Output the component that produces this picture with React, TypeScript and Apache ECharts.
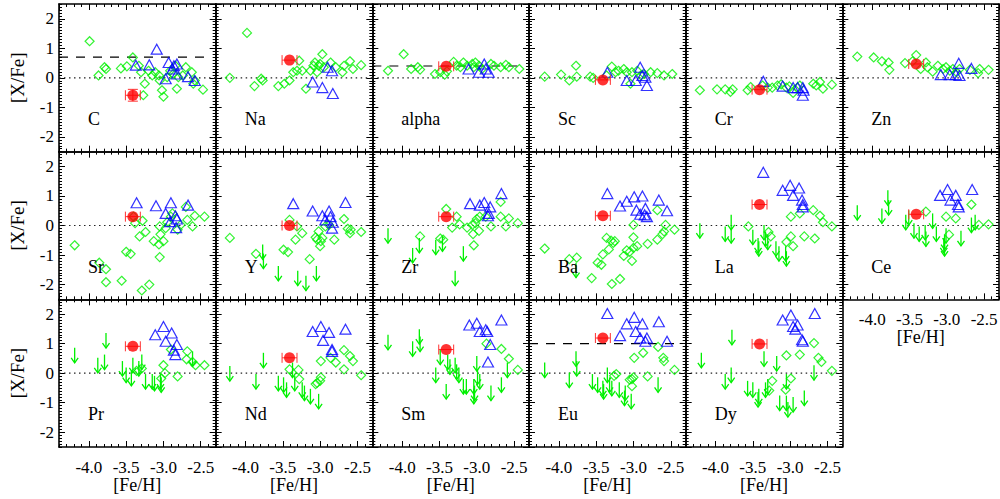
import React, { useEffect, useRef } from 'react';
import * as echarts from 'echarts';

type P = [number, number];

const elements = ['C', 'Na', 'alpha', 'Sc', 'Cr', 'Zn', 'Sr', 'Y', 'Zr', 'Ba', 'La', 'Ce', 'Pr', 'Nd', 'Sm', 'Eu', 'Dy'];

// red star (this work)
const redFeH = -3.41;
const redFeHErr = 0.1;
const redX = [-0.59, 0.6, 0.39, -0.07, -0.4, 0.47, 0.3, 0.0, 0.3, 0.33, 0.71, 0.38, 0.91, 0.52, 0.8, 1.19, 0.99];
const redXErr = [0.2, 0, 0, 0, 0, 0, 0, 0, 0, 0, 0, 0, 0, 0, 0, 0, 0];
const dashLevel: (number | null)[] = [0.7, null, 0.4, null, null, null, null, null, null, null, null, null, null, null, null, 1.0, null];
const dashEnd = -2.45;

const xTicks = ['-4.0', '-3.5', '-3.0', '-2.5'];
const yTicks = ['-2', '-1', '0', '1', '2'];

const C_dia: P[] = [[-3.99,1.24],[-3.87,0.08],[-3.79,0.36],[-3.77,0.30],[-3.57,0.32],[-3.49,0.39],[-3.41,0.69],[-3.33,0.41],[-3.30,0.19],[-3.27,-0.59],[-3.25,-0.20],[-3.20,0.24],[-3.15,0.08],[-3.11,0.19],[-3.06,0.08],[-3.05,-0.09],[-3.02,-0.42],[-3.00,-0.64],[-2.95,0.02],[-2.91,0.24],[-2.87,0.13],[-2.84,0.41],[-2.82,-0.37],[-2.80,0.02],[-2.74,0.08],[-2.70,0.36],[-2.62,0.19],[-2.60,-0.20],[-2.58,-0.09],[-2.47,-0.40]];
const C_tri: P[] = [[-3.37,0.43],[-3.19,0.44],[-3.09,0.97],[-2.93,0.52],[-2.86,0.41],[-2.82,0.47],[-2.88,0.30],[-2.97,-0.03],[-2.82,0.13],[-2.67,0.04],[-2.58,-0.09]];
const C_lim: P[] = [];

const Na_dia: P[] = [[-4.21,0.0],[-3.98,1.52],[-3.88,-0.28],[-3.79,-0.03],[-3.77,-0.09],[-3.56,-0.28],[-3.48,-0.2],[-3.41,-0.09],[-3.36,0.19],[-3.31,0.24],[-3.28,0.58],[-3.24,0.24],[-3.19,-0.37],[-3.13,0.24],[-3.09,0.41],[-3.07,0.52],[-3.04,0.19],[-3.02,0.41],[-3.0,0.47],[-2.97,0.8],[-2.95,0.36],[-2.86,0.52],[-2.79,0.36],[-2.7,0.19],[-2.68,0.41],[-2.6,0.56],[-2.56,0.3],[-2.45,0.43]];
const Na_tri: P[] = [[-3.1,-0.14],[-2.97,-0.33],[-2.9,0.36],[-2.84,0.24],[-2.83,-0.53]];
const Na_lim: P[] = [];

const alpha_dia: P[] = [[-4.19,0.24],[-3.98,0.8],[-3.88,0.3],[-3.79,0.36],[-3.76,0.28],[-3.56,0.13],[-3.49,0.19],[-3.43,0.11],[-3.4,0.22],[-3.31,0.54],[-3.27,0.41],[-3.22,0.36],[-3.18,0.52],[-3.13,0.41],[-3.06,0.47],[-3.04,0.36],[-3.02,0.52],[-2.97,0.41],[-2.93,0.3],[-2.81,0.47],[-2.77,0.41],[-2.68,0.36],[-2.61,0.44],[-2.57,0.36],[-2.43,0.3]];
const alpha_tri: P[] = [[-3.11,0.3],[-2.97,0.19],[-2.9,0.47],[-2.88,0.3],[-2.84,0.19]];
const alpha_lim: P[] = [];

const Sc_dia: P[] = [[-4.19,0.04],[-3.97,0.11],[-3.86,-0.09],[-3.77,0.41],[-3.76,0.04],[-3.58,0.04],[-3.54,0.0],[-3.36,0.08],[-3.29,0.38],[-3.24,0.19],[-3.2,0.24],[-3.13,0.3],[-3.09,0.19],[-3.04,-0.2],[-3.02,0.19],[-2.95,0.24],[-2.9,0.08],[-2.86,0.13],[-2.77,0.19],[-2.68,0.16],[-2.59,0.08],[-2.48,0.13]];
const Sc_tri: P[] = [[-3.35,0.19],[-3.09,-0.09],[-2.97,-0.09],[-2.91,0.36],[-2.88,0.08],[-2.84,0.02],[-2.82,-0.26]];
const Sc_lim: P[] = [];

const Cr_dia: P[] = [[-4.21,-0.42],[-3.98,-0.39],[-3.87,-0.39],[-3.8,-0.48],[-3.77,-0.39],[-3.57,-0.42],[-3.53,-0.31],[-3.37,-0.26],[-3.3,-0.33],[-3.24,-0.33],[-3.17,-0.26],[-3.12,-0.22],[-3.05,-0.33],[-3.01,-0.29],[-2.96,-0.51],[-2.9,-0.33],[-2.87,-0.26],[-2.69,-0.2],[-2.65,-0.26],[-2.6,-0.14],[-2.56,-0.37],[-2.44,-0.23]];
const Cr_tri: P[] = [[-3.36,-0.12],[-3.1,-0.28],[-2.96,-0.33],[-2.9,-0.33],[-2.83,-0.33],[-2.83,-0.59],[-2.82,-0.42]];
const Cr_lim: P[] = [];

const Zn_dia: P[] = [[-4.2,0.72],[-3.98,0.69],[-3.87,0.56],[-3.78,0.52],[-3.77,0.27],[-3.56,0.5],[-3.46,0.56],[-3.41,0.77],[-3.35,0.3],[-3.28,0.52],[-3.26,0.36],[-3.19,0.21],[-3.12,0.41],[-3.05,0.3],[-3.01,0.36],[-2.96,0.24],[-2.92,0.3],[-2.87,0.19],[-2.83,0.3],[-2.69,0.27],[-2.58,0.16],[-2.56,0.3],[-2.44,0.27]];
const Zn_tri: P[] = [[-3.08,0.11],[-2.96,0.11],[-2.88,0.11],[-2.84,0.49],[-2.83,0.08],[-2.67,0.32]];
const Zn_lim: P[] = [];

const Sr_dia: P[] = [[-4.19,-0.67],[-3.86,-1.26],[-3.77,-1.48],[-3.77,-1.92],[-3.56,-1.87],[-3.5,-0.89],[-3.44,-0.96],[-3.4,0.3],[-3.38,0.08],[-3.32,-0.37],[-3.28,0.16],[-3.29,-2.2],[-3.24,-0.22],[-3.19,-2.0],[-3.13,-0.53],[-3.06,-0.64],[-3.05,-1.07],[-3.05,-0.03],[-3.04,-0.3],[-3.0,-0.53],[-2.97,-0.09],[-2.95,0.11],[-2.9,0.3],[-2.88,0.41],[-2.81,-0.14],[-2.77,0.02],[-2.7,0.63],[-2.68,0.19],[-2.61,-0.03],[-2.58,0.33],[-2.45,0.3]];
const Sr_tri: P[] = [[-3.36,0.77],[-3.1,0.67],[-2.9,0.77],[-2.97,0.41],[-2.91,0.13],[-2.84,0.33],[-2.82,0.22],[-2.83,-0.07],[-2.67,0.69]];
const Sr_lim: P[] = [];

const Y_dia: P[] = [[-4.21,-0.42],[-3.86,-0.96],[-3.49,-0.82],[-3.43,-0.9],[-3.41,0.19],[-3.33,-0.48],[-3.31,-0.03],[-3.24,-0.26],[-3.14,-1.14],[-3.06,-0.4],[-3.04,-0.48],[-3.02,-0.2],[-3.0,-0.7],[-2.99,-0.53],[-2.97,-0.42],[-2.93,-0.03],[-2.88,0.02],[-2.81,-0.48],[-2.68,0.22],[-2.63,-0.11],[-2.6,-0.26],[-2.59,-0.14],[-2.45,-0.22]];
const Y_tri: P[] = [[-3.36,0.74],[-3.1,0.49],[-2.97,0.33],[-2.88,0.49],[-2.93,0.19],[-2.86,0.3],[-2.83,0.11],[-2.84,-0.09],[-2.66,0.78]];
const Y_lim: P[] = [[-3.77,-0.64],[-3.76,-0.95],[-3.56,-1.37],[-3.3,-1.53],[-3.19,-1.7],[-3.05,-1.37]];

const Zr_dia: P[] = [[-3.76,-0.37],[-3.49,-0.44],[-3.45,-0.48],[-3.41,0.56],[-3.33,-0.07],[-3.27,0.3],[-3.23,0.04],[-3.13,-0.07],[-3.06,0.02],[-3.05,-0.29],[-3.04,-0.67],[-3.02,0.08],[-3.0,0.22],[-2.97,-0.18],[-2.96,0.3],[-2.88,0.3],[-2.81,-0.03],[-2.68,0.8],[-2.68,0.3],[-2.61,-0.03],[-2.57,0.24],[-2.45,0.08]];
const Zr_tri: P[] = [[-3.09,0.74],[-2.96,0.69],[-2.9,0.78],[-2.82,0.63],[-2.85,0.33],[-2.84,0.41],[-2.67,1.08]];
const Zr_lim: P[] = [[-4.19,-0.09],[-3.77,-0.42],[-3.86,-0.76],[-3.55,-0.48],[-3.46,-0.37],[-3.18,-0.7],[-3.29,-1.53]];

const Ba_dia: P[] = [[-4.19,-0.78],[-3.86,-1.14],[-3.76,-1.09],[-3.56,-1.78],[-3.48,-1.26],[-3.43,-1.33],[-3.41,-0.98],[-3.36,-0.42],[-3.33,-0.81],[-3.3,-0.51],[-3.29,-1.98],[-3.27,-0.59],[-3.25,-0.53],[-3.18,-1.81],[-3.13,-1.03],[-3.09,-0.84],[-3.05,-0.89],[-3.02,-1.2],[-3.0,-0.76],[-3.0,-0.4],[-3.0,0.02],[-2.95,-0.7],[-2.81,-0.62],[-2.68,0.52],[-2.68,-0.48],[-2.61,-0.29],[-2.59,-0.2],[-2.57,0.02],[-2.45,-0.14]];
const Ba_tri: P[] = [[-3.35,1.08],[-3.18,0.66],[-3.09,0.82],[-2.99,0.97],[-2.88,1.0],[-2.96,0.52],[-2.91,0.38],[-2.84,0.58],[-2.85,0.36],[-2.82,0.3],[-2.66,0.86],[-2.55,0.5]];
const Ba_lim: P[] = [[-3.77,-1.26]];

const La_dia: P[] = [[-3.56,-0.03],[-3.29,-0.22],[-3.26,-0.37],[-3.05,-0.56],[-2.99,-0.37],[-2.96,-0.7],[-2.99,0.3],[-2.87,0.41],[-2.81,-0.37],[-2.69,0.52],[-2.67,-0.44],[-2.6,0.33],[-2.56,0.11],[-2.44,-0.03]];
const La_tri: P[] = [[-3.36,1.8],[-3.1,1.19],[-3.0,1.36],[-2.96,1.02],[-2.88,1.27],[-2.84,0.86],[-2.83,0.71],[-2.83,0.63]];
const La_lim: P[] = [[-4.21,0.08],[-3.87,-0.03],[-3.79,0.36],[-3.79,-0.09],[-3.5,-0.14],[-3.43,-0.42],[-3.42,-0.53],[-3.35,0.02],[-3.33,-0.2],[-3.3,-0.31],[-3.19,-0.53],[-3.15,-0.7],[-3.05,-0.87],[-3.06,-0.7]];

const Ce_dia: P[] = [[-3.28,0.47],[-3.01,0.3],[-2.88,0.24],[-2.97,-0.31],[-2.67,0.71],[-2.57,0.02],[-2.44,0.04]];
const Ce_tri: P[] = [[-3.09,1.02],[-2.99,1.22],[-2.95,0.86],[-2.88,1.02],[-2.85,0.71],[-2.84,0.63],[-2.66,1.22]];
const Ce_lim: P[] = [[-4.2,0.69],[-3.87,0.58],[-3.79,1.19],[-3.78,0.86],[-3.55,0.36],[-3.51,0.52],[-3.44,0.08],[-3.37,-0.03],[-3.29,0.02],[-3.28,-0.2],[-3.19,0.41],[-3.14,-0.03],[-3.03,-0.31],[-3.04,-0.42],[-3.03,-0.53],[-3.01,-0.09],[-2.81,-0.18],[-2.67,0.27],[-2.62,0.36]];

const Pr_dia: P[] = [[-3.36,0.08],[-3.29,0.16],[-3.0,0.27],[-2.98,0.0],[-2.9,0.8],[-2.81,-0.11],[-2.68,0.74],[-2.69,0.47],[-2.61,0.38],[-2.57,0.27],[-2.45,0.27],[-3.03,-0.18]];
const Pr_tri: P[] = [[-3.11,1.3],[-3.0,1.58],[-2.89,1.36],[-2.97,1.08],[-2.82,0.97],[-2.86,0.78],[-2.84,0.63]];
const Pr_lim: P[] = [[-4.19,0.86],[-3.88,0.52],[-3.79,0.63],[-3.77,1.36],[-3.55,0.41],[-3.5,0.19],[-3.43,0.08],[-3.41,0.52],[-3.33,0.41],[-3.29,0.63],[-3.24,-0.03],[-3.15,-0.03],[-3.12,-0.09],[-3.04,-0.03],[-3.03,-0.14],[-2.61,0.74]];

const Nd_dia: P[] = [[-3.41,0.13],[-3.29,0.11],[-3.28,-0.2],[-3.06,-0.37],[-3.04,-0.33],[-3.0,-0.26],[-2.99,-0.14],[-2.99,0.41],[-2.86,0.52],[-2.79,0.36],[-2.68,0.78],[-2.68,0.13],[-2.6,0.58],[-2.56,0.41],[-2.45,-0.07]];
const Nd_tri: P[] = [[-3.1,1.41],[-2.99,1.58],[-2.88,1.38],[-2.96,1.11],[-2.84,0.8],[-2.84,0.74],[-2.66,1.49]];
const Nd_lim: P[] = [[-4.21,0.24],[-3.86,-0.03],[-3.76,0.69],[-3.56,-0.09],[-3.49,-0.14],[-3.45,-0.31],[-3.37,0.36],[-3.34,-0.09],[-3.24,-0.31],[-3.21,-0.42],[-3.13,-0.53],[-3.02,-0.7]];

const Sm_dia: P[] = [[-2.87,1.0],[-2.67,0.82],[-2.57,0.49],[-2.45,0.11]];
const Sm_tri: P[] = [[-3.1,1.63],[-3.0,1.69],[-2.96,1.41],[-2.88,1.47],[-2.86,1.41],[-2.67,1.8],[-2.82,0.97],[-2.85,0.38]];
const Sm_lim: P[] = [[-4.19,1.3],[-3.86,1.08],[-3.77,1.49],[-3.76,1.24],[-3.49,0.8],[-3.55,0.19],[-3.41,-0.37],[-3.39,0.63],[-3.36,0.47],[-3.29,0.52],[-3.27,0.3],[-3.24,0.19],[-3.18,-0.2],[-3.14,-0.2],[-3.04,-0.2],[-3.03,-0.42],[-3.04,-0.53],[-3.0,0.58],[-2.99,0.13],[-2.96,-0.03],[-2.81,-0.42],[-2.67,-0.14],[-2.59,0.36]];

const Eu_dia: P[] = [[-3.26,-0.09],[-3.23,-0.03],[-3.05,-0.22],[-3.02,-0.2],[-3.0,-0.14],[-3.02,-0.44],[-2.99,0.52],[-2.87,0.69],[-2.81,-0.11],[-2.67,0.89],[-2.6,0.52],[-2.59,0.41],[-2.45,0.11]];
const Eu_tri: P[] = [[-3.35,2.02],[-3.18,1.27],[-3.09,1.67],[-2.99,1.89],[-2.88,1.67],[-2.97,1.41],[-2.91,1.19],[-2.82,1.19],[-2.84,1.08],[-2.66,1.74],[-2.55,1.08]];
const Eu_lim: P[] = [[-4.19,0.36],[-3.86,0.02],[-3.77,0.74],[-3.76,0.41],[-3.55,-0.03],[-3.48,-0.14],[-3.41,-0.26],[-3.4,-0.37],[-3.35,0.19],[-3.32,-0.14],[-3.29,-0.26],[-3.19,-0.31],[-3.12,-0.59],[-3.03,-0.7],[-3.11,-0.42],[-2.67,-0.14]];

const Dy_dia: P[] = [[-3.24,-0.26],[-3.28,-0.59],[-3.05,0.6],[-2.99,-0.18],[-3.06,-0.56],[-2.87,0.63],[-2.68,1.02],[-2.62,0.52],[-2.58,0.38],[-2.44,0.08]];
const Dy_tri: P[] = [[-3.1,1.8],[-2.99,1.97],[-2.96,1.58],[-2.9,1.63],[-2.93,1.49],[-2.84,1.13],[-2.83,1.08],[-2.67,2.02]];
const Dy_lim: P[] = [[-4.19,0.69],[-3.87,-0.03],[-3.79,0.19],[-3.78,1.47],[-3.57,-0.26],[-3.5,-0.31],[-3.43,-0.64],[-3.42,-0.53],[-3.35,0.74],[-3.33,-0.31],[-3.3,-0.2],[-3.18,0.58],[-3.14,-0.76],[-3.05,-0.76],[-3.03,-0.98],[-2.96,-0.81],[-3.05,-0.03],[-2.81,-0.59],[-2.68,0.27]];

const diamonds: P[][] = [C_dia, Na_dia, alpha_dia, Sc_dia, Cr_dia, Zn_dia, Sr_dia, Y_dia, Zr_dia, Ba_dia, La_dia, Ce_dia, Pr_dia, Nd_dia, Sm_dia, Eu_dia, Dy_dia];
const triangles: P[][] = [C_tri, Na_tri, alpha_tri, Sc_tri, Cr_tri, Zn_tri, Sr_tri, Y_tri, Zr_tri, Ba_tri, La_tri, Ce_tri, Pr_tri, Nd_tri, Sm_tri, Eu_tri, Dy_tri];
const limits: P[][] = [C_lim, Na_lim, alpha_lim, Sc_lim, Cr_lim, Zn_lim, Sr_lim, Y_lim, Zr_lim, Ba_lim, La_lim, Ce_lim, Pr_lim, Nd_lim, Sm_lim, Eu_lim, Dy_lim];

const XMIN = -4.4, XMAX = -2.3, YMIN = -2.5, YMAX = 2.5;
const LEFT0 = 59, COLW = 156.67, TOP0 = 4, ROWH = 147.67;
const FONT = "'Liberation Serif', 'Times New Roman', serif";
const GREEN = '#00f000';
const BLUE = '#0000ff';
const RED = '#ff0000';

function buildOption() {
  const grid: any[] = [];
  const xAxis: any[] = [];
  const yAxis: any[] = [];
  const series: any[] = [];
  const graphic: any[] = [];

  elements.forEach((el, i) => {
    const row = Math.floor(i / 6);
    const col = i % 6;
    const left = LEFT0 + col * COLW;
    const top = TOP0 + row * ROWH;
    grid.push({ left, top, width: COLW, height: ROWH, show: false, outerBoundsMode: 'none', containLabel: false });
    const showX = row === 2 || i === 11;
    const showY = col === 0;
    const line = { show: true, onZero: false, lineStyle: { color: '#000', width: 1.6 } };
    const label = { fontFamily: FONT, fontSize: 17, color: '#000' };
    ['bottom', 'top'].forEach((pos) => {
      xAxis.push({
        type: 'value', gridIndex: i, position: pos, min: XMIN, max: XMAX, splitNumber: 4,
        axisLine: line,
        axisTick: { show: true, inside: true, length: 6, lineStyle: { color: '#000', width: 1 } },
        axisLabel: {
          show: pos === 'bottom' && showX, showMinLabel: false, showMaxLabel: false, margin: 12,
          formatter: (v: number) => { const s = v.toFixed(1); return xTicks.indexOf(s) >= 0 ? s : ''; },
          ...label,
        },
        splitLine: { show: false },
      });
      xAxis.push({
        type: 'value', gridIndex: i, position: pos, min: XMIN, max: XMAX, interval: 0.1,
        axisLine: { show: false, onZero: false },
        axisTick: { show: true, inside: true, length: 3, lineStyle: { color: '#000', width: 1 } },
        axisLabel: { show: false }, splitLine: { show: false },
      });
    });
    ['left', 'right'].forEach((pos) => {
      yAxis.push({
        type: 'value', gridIndex: i, position: pos, min: YMIN, max: YMAX, splitNumber: 5,
        axisLine: line,
        axisTick: { show: true, inside: true, length: 6, lineStyle: { color: '#000', width: 1 } },
        axisLabel: {
          show: pos === 'left' && showY, showMinLabel: false, showMaxLabel: false, margin: 5,
          formatter: (v: number) => { const s = String(Math.round(v)); return Math.abs(v - Math.round(v)) < 1e-6 && yTicks.indexOf(s) >= 0 ? s : ''; },
          ...label,
        },
        splitLine: { show: false },
      });
      yAxis.push({
        type: 'value', gridIndex: i, position: pos, min: YMIN, max: YMAX, interval: 0.1,
        axisLine: { show: false, onZero: false },
        axisTick: { show: true, inside: true, length: 3, lineStyle: { color: '#000', width: 1 } },
        axisLabel: { show: false }, splitLine: { show: false },
      });
    });
    const xi = i * 4, yi = i * 4;
    series.push({
      type: 'line', xAxisIndex: xi, yAxisIndex: yi, data: [[XMIN, 0], [XMAX, 0]], symbol: 'none', silent: true,
      lineStyle: { color: '#222', width: 1.2, type: [1.5, 3.5] }, z: 1,
    });
    const d = dashLevel[i];
    if (d !== null) {
      series.push({
        type: 'line', xAxisIndex: xi, yAxisIndex: yi, data: [[XMIN, d], [dashEnd, d]], symbol: 'none', silent: true,
        lineStyle: { color: '#000', width: 1.2, type: [9, 8] }, z: 1,
      });
    }
    series.push({
      type: 'scatter', xAxisIndex: xi, yAxisIndex: yi, data: diamonds[i], symbol: 'diamond', symbolSize: 9, silent: true,
      itemStyle: { color: 'none', borderColor: GREEN, borderWidth: 1.2 }, z: 2,
    });
    if (limits[i].length) {
      series.push({
        type: 'custom', xAxisIndex: xi, yAxisIndex: yi, data: limits[i], silent: true, z: 2,
        renderItem: (params: any, api: any) => {
          const p = api.coord([api.value(0), api.value(1)]);
          const L = 15, hw = 3.5, hh = 5;
          return {
            type: 'group', children: [
              { type: 'line', shape: { x1: p[0], y1: p[1], x2: p[0], y2: p[1] + L }, style: { stroke: GREEN, lineWidth: 1.3 } },
              { type: 'polyline', shape: { points: [[p[0] - hw, p[1] + L - hh], [p[0], p[1] + L], [p[0] + hw, p[1] + L - hh]] }, style: { stroke: GREEN, fill: 'none', lineWidth: 1.3 } },
            ],
          };
        },
      });
    }
    series.push({
      type: 'scatter', xAxisIndex: xi, yAxisIndex: yi, data: triangles[i], symbol: 'triangle', symbolSize: [11, 10], silent: true,
      itemStyle: { color: 'none', borderColor: BLUE, borderWidth: 1.2 }, z: 3,
    });
    series.push({
      type: 'custom', xAxisIndex: xi, yAxisIndex: yi, data: [[redFeH, redX[i], redFeHErr, redXErr[i]]], silent: true, z: 4,
      renderItem: (params: any, api: any) => {
        const x = api.value(0), y = api.value(1), ex = api.value(2), ey = api.value(3);
        const a = api.coord([x - ex, y]);
        const b = api.coord([x + ex, y]);
        const cap = 5;
        const st = { stroke: '#ff3030', lineWidth: 1 };
        const children: any[] = [
          { type: 'line', shape: { x1: a[0], y1: a[1], x2: b[0], y2: b[1] }, style: st },
          { type: 'line', shape: { x1: a[0], y1: a[1] - cap, x2: a[0], y2: a[1] + cap }, style: st },
          { type: 'line', shape: { x1: b[0], y1: b[1] - cap, x2: b[0], y2: b[1] + cap }, style: st },
        ];
        if (ey > 0) {
          const c = api.coord([x, y - ey]);
          const e = api.coord([x, y + ey]);
          children.push({ type: 'line', shape: { x1: c[0], y1: c[1], x2: e[0], y2: e[1] }, style: st });
          children.push({ type: 'line', shape: { x1: c[0] - cap, y1: c[1], x2: c[0] + cap, y2: c[1] }, style: st });
          children.push({ type: 'line', shape: { x1: e[0] - cap, y1: e[1], x2: e[0] + cap, y2: e[1] }, style: st });
        }
        return { type: 'group', children };
      },
    });
    series.push({
      type: 'scatter', xAxisIndex: xi, yAxisIndex: yi, data: [[redFeH, redX[i]]], symbol: 'circle', symbolSize: 11, silent: true,
      itemStyle: { color: RED }, z: 5,
    });

    graphic.push({
      type: 'text', x: left + 29, y: top + 115, silent: true, z: 10,
      style: { text: el, fill: '#000', fontFamily: FONT, fontSize: 18, textAlign: 'left', textVerticalAlign: 'middle', verticalAlign: 'middle' },
    });
    if (showY) {
      graphic.push({
        type: 'text', x: 17, y: top + ROWH / 2, rotation: Math.PI / 2, silent: true,
        style: { text: '[X/Fe]', fill: '#000', fontFamily: FONT, fontSize: 19, textAlign: 'center', textVerticalAlign: 'middle', verticalAlign: 'middle', align: 'center' },
      });
    }
    if (showX) {
      graphic.push({
        type: 'text', x: left + COLW / 2, y: top + ROWH + 38, silent: true,
        style: { text: '[Fe/H]', fill: '#000', fontFamily: FONT, fontSize: 18, textAlign: 'center', textVerticalAlign: 'middle', verticalAlign: 'middle', align: 'center' },
      });
    }
  });

  return { animation: false, backgroundColor: '#fff', grid, xAxis, yAxis, series, graphic };
}

export default function App() {
  const ref = useRef<HTMLDivElement>(null);
  useEffect(() => {
    if (!ref.current) return;
    const chart = echarts.init(ref.current, undefined, { renderer: 'svg' });
    chart.setOption(buildOption() as any);
    return () => chart.dispose();
  }, []);
  return <div ref={ref} style={{ position: 'absolute', left: 0, top: 0, width: 1000, height: 499 }} />;
}
